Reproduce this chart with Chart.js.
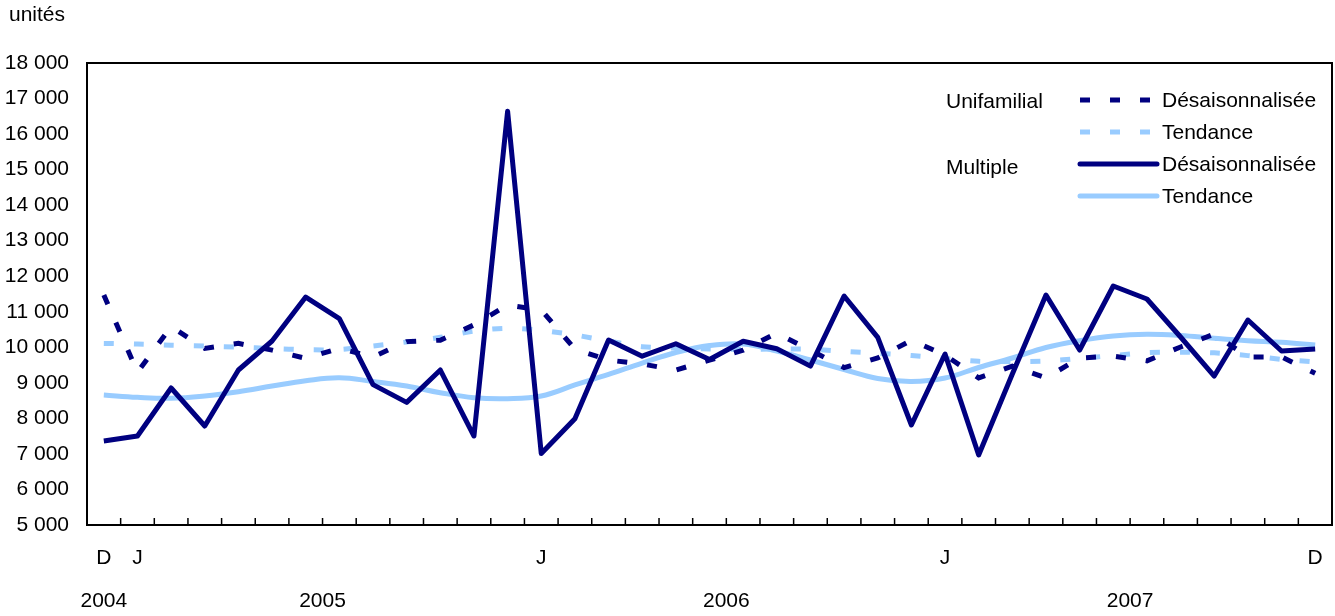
<!DOCTYPE html>
<html>
<head>
<meta charset="utf-8">
<script src="https://cdn.jsdelivr.net/npm/chart.js@4"></script>
<style>
  html, body { margin: 0; padding: 0; background: #fff; }
  #wrap { width: 1335px; height: 616px; position: relative; }
</style>
</head>
<body>
<div id="wrap"><canvas id="c"></canvas></div>
<script>
const categories = ['2004-12',
  '2005-01','2005-02','2005-03','2005-04','2005-05','2005-06','2005-07','2005-08','2005-09','2005-10','2005-11','2005-12',
  '2006-01','2006-02','2006-03','2006-04','2006-05','2006-06','2006-07','2006-08','2006-09','2006-10','2006-11','2006-12',
  '2007-01','2007-02','2007-03','2007-04','2007-05','2007-06','2007-07','2007-08','2007-09','2007-10','2007-11','2007-12'];

const xTickLabels = ['D',
  'J','','','','','','','','','','','',
  'J','','','','','','','','','','','',
  'J','','','','','','','','','','','D'];

const yearLabels = ['2004', '2005', '2006', '2007'];
const yearFirstIndex = [0, 1, 13, 25];
const yearLastIndex = [0, 12, 24, 36];

const unifDesais = [11470, 9300, 10580, 9970, 10110, 9920, 9690, 9970, 9730, 10160, 10200, 10630,
  11190, 11050, 9950, 9640, 9530, 9360, 9640, 9920, 10400, 9920, 9430, 9700,
  10200, 9780, 9140, 9470, 9140, 9700, 9750, 9620, 10010, 10370, 9730, 9730, 9270];
const unifTend = [10110, 10090, 10060, 10035, 10005, 9965, 9935, 9935, 10037, 10150, 10281, 10460,
  10535, 10475, 10346, 10177, 10017, 9980, 9952, 9943, 9952, 9950, 9885, 9831,
  9770, 9685, 9606, 9600, 9614, 9690, 9769, 9848, 9862, 9845, 9766, 9662, 9586];
const multDesais = [7364, 7504, 8855, 7786, 9361, 10177, 11415, 10810, 8950, 8450, 9361, 7504,
  16640, 7010, 7990, 10205, 9750, 10100, 9655, 10170, 9960, 9470, 11443, 10280,
  7814, 9812, 6970, 9248, 11471, 9924, 11725, 11359, 10290, 9192, 10768, 9896, 9952];
const multTend = [8658, 8593, 8565, 8630, 8750, 8910, 9060, 9144, 9038, 8911, 8723, 8582,
  8554, 8630, 8940, 9235, 9558, 9854, 10050, 10093, 9896, 9643, 9375, 9122,
  9038, 9136, 9432, 9699, 9995, 10186, 10318, 10366, 10332, 10253, 10186, 10141, 10065];

const yMin = 5000, yMax = 18000, yStep = 1000;

const DARK = '#000080';
const LIGHT = '#99CCFF';
const FONT = "'Liberation Sans', Arial, Helvetica, sans-serif";
const FS = 21;

function fmt(v) { return String(v).replace(/\B(?=(\d{3})+(?!\d))/g, ' '); }

const datasets = [
  { label: 'Désaisonnalisée', group: 'Unifamilial', data: unifDesais, borderColor: DARK, borderWidth: 5,
    borderDash: [10, 20], borderCapStyle: 'butt', tension: 0, pointRadius: 0, order: 1, fill: false },
  { label: 'Tendance', group: 'Unifamilial', data: unifTend, borderColor: LIGHT, borderWidth: 5,
    borderDash: [10, 20], borderCapStyle: 'butt', tension: 0.3, pointRadius: 0, order: 2, fill: false },
  { label: 'Désaisonnalisée', group: 'Multiple', data: multDesais, borderColor: DARK, borderWidth: 5,
    borderJoinStyle: 'round', tension: 0, pointRadius: 0, order: 0, fill: false },
  { label: 'Tendance', group: 'Multiple', data: multTend, borderColor: LIGHT, borderWidth: 5,
    tension: 0.4, pointRadius: 0, order: 3, fill: false }
];

const decorations = {
  id: 'decorations',
  afterDraw(chart) {
    const { ctx, chartArea: a, scales: { x } } = chart;
    ctx.save();
    // frame
    ctx.strokeStyle = '#000';
    ctx.lineWidth = 2;
    ctx.strokeRect(a.left, a.top, a.right - a.left, a.bottom - a.top);
    // inward month tick marks at category boundaries
    ctx.lineWidth = 1.5;
    for (let i = 0; i < categories.length - 1; i++) {
      const px = (x.getPixelForValue(i) + x.getPixelForValue(i + 1)) / 2;
      ctx.beginPath();
      ctx.moveTo(px, a.bottom);
      ctx.lineTo(px, a.bottom - 7);
      ctx.stroke();
    }
    // year labels
    ctx.fillStyle = '#000';
    ctx.font = FS + 'px ' + FONT;
    ctx.textAlign = 'center';
    ctx.textBaseline = 'middle';
    yearLabels.forEach((lab, k) => {
      const px = (x.getPixelForValue(yearFirstIndex[k]) + x.getPixelForValue(yearLastIndex[k])) / 2;
      ctx.fillText(lab, px, a.bottom + 76);
    });
    // unit label
    ctx.textAlign = 'left';
    ctx.fillText('unités', 9, 15);
    // legend
    const sx0 = 1080, sx1 = 1157, tx = 1162, gx = 946;
    const rows = [100, 132, 164, 196];
    ctx.fillText('Unifamilial', gx, 102);
    ctx.fillText('Multiple', gx, 168);
    datasets.forEach((ds, k) => {
      const y = rows[k];
      ctx.save();
      ctx.strokeStyle = ds.borderColor;
      ctx.lineWidth = ds.borderWidth;
      ctx.lineCap = ds.borderDash ? 'butt' : 'round';
      if (ds.borderDash) ctx.setLineDash(ds.borderDash);
      ctx.beginPath();
      ctx.moveTo(sx0, y);
      ctx.lineTo(sx1, y);
      ctx.stroke();
      ctx.restore();
      ctx.fillStyle = '#000';
      ctx.fillText(ds.label, tx, y + 1);
    });
    ctx.restore();
  }
};

new Chart(document.getElementById('c'), {
  type: 'line',
  data: { labels: categories, datasets: datasets },
  options: {
    responsive: true,
    maintainAspectRatio: false,
    animation: false,
    layout: { padding: { top: 63, right: 3, left: 0, bottom: 0 } },
    plugins: { legend: { display: false }, tooltip: { enabled: false }, title: { display: false } },
    scales: {
      x: {
        type: 'category',
        offset: true,
        grid: { display: false, drawTicks: true, tickLength: 20 },
        border: { display: false },
        ticks: {
          autoSkip: false, maxRotation: 0, minRotation: 0, padding: 1,
          color: '#000', font: { family: FONT, size: FS },
          callback: (v, i) => xTickLabels[i]
        },
        afterFit: (s) => { s.height = 91; }
      },
      y: {
        min: yMin, max: yMax,
        grid: { display: false, drawTicks: false },
        border: { display: false },
        ticks: {
          stepSize: yStep, padding: 18, color: '#000',
          font: { family: FONT, size: FS },
          callback: (v) => fmt(v)
        },
        afterFit: (s) => { s.width = 87; }
      }
    }
  },
  plugins: [decorations]
});
</script>
</body>
</html>
